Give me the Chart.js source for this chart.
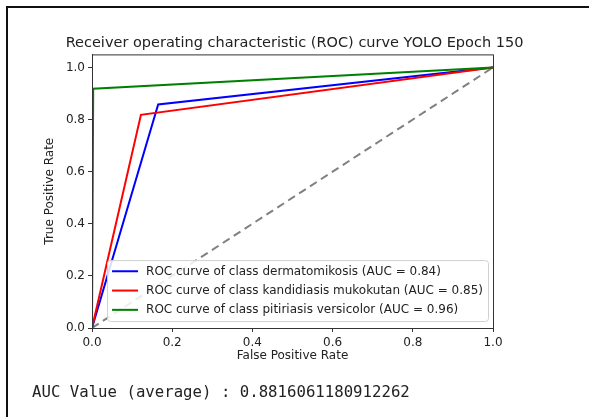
<!DOCTYPE html>
<html>
<head>
<meta charset="utf-8">
<script src="https://cdn.jsdelivr.net/npm/chart.js@4.4.0/dist/chart.umd.min.js"></script>
<style>
  html, body { margin: 0; padding: 0; background: #fff; }
  #wrap { position: relative; width: 589px; height: 417px; overflow: hidden; }
  #c { position: absolute; left: 0; top: 0; }
  #frameTop { position: absolute; left: 6px; top: 6px; width: 583px; height: 2px; background: #111; }
  #frameLeft { position: absolute; left: 6px; top: 6px; width: 2px; height: 411px; background: #111; }
  #auc { position: absolute; left: 32px; top: 382px; font-family: "DejaVu Sans Mono", monospace; font-size: 15.7px; color: #222; white-space: pre; }
</style>
</head>
<body>
<div id="wrap">
  <canvas id="c" width="589" height="417"></canvas>
  <div id="frameTop"></div>
  <div id="frameLeft"></div>
  <div id="auc">AUC Value (average) : 0.8816061180912262</div>
</div>
<script>
// ---- data ----
const classNames = ['dermatomikosis', 'kandidiasis mukokutan', 'pitiriasis versicolor'];
const aucValues = [0.84, 0.85, 0.96];
const fprDermatomikosis = [0, 0.165, 1];
const tprDermatomikosis = [0, 0.858, 1];
const fprKandidiasis = [0, 0.122, 1];
const tprKandidiasis = [0, 0.818, 1];
const fprPitiriasis = [0, 0.003, 1];
const tprPitiriasis = [0, 0.918, 1];
const fprDiagonal = [0, 1];
const tprDiagonal = [0, 1];
const xTickValues = [0, 0.2, 0.4, 0.6, 0.8, 1.0];
const yTickValues = [0, 0.2, 0.4, 0.6, 0.8, 1.0];
const titleText = 'Receiver operating characteristic (ROC) curve YOLO Epoch 150';

function pts(xs, ys) { return xs.map((x, i) => ({ x: x, y: ys[i] })); }

const lineColors = ['#0000ff', '#ff0000', '#008000'];
const fprs = [fprDermatomikosis, fprKandidiasis, fprPitiriasis];
const tprs = [tprDermatomikosis, tprKandidiasis, tprPitiriasis];

const datasets = classNames.map((name, i) => ({
  label: 'ROC curve of class ' + name + ' (AUC = ' + aucValues[i].toFixed(2) + ')',
  data: pts(fprs[i], tprs[i]),
  borderColor: lineColors[i],
  backgroundColor: lineColors[i],
  borderWidth: 2,
  pointRadius: 0,
  fill: false,
  tension: 0,
  order: 4 - i
}));
datasets.push({
  label: '_diag',
  data: pts(fprDiagonal, tprDiagonal),
  borderColor: '#808080',
  borderWidth: 2,
  borderDash: [8, 5],
  pointRadius: 0,
  fill: false,
  order: 10
});

const FONT = '"DejaVu Sans", sans-serif';

const boxAndLegend = {
  id: 'boxAndLegend',
  afterDatasetsDraw(chart) {
    const ctx = chart.ctx;
    const a = chart.chartArea;
    ctx.save();
    // axes box
    ctx.strokeStyle = '#333';
    ctx.lineWidth = 1;
    ctx.strokeRect(a.left + 0.5, a.top + 0.5, a.right - a.left, a.bottom - a.top);
    // legend
    ctx.font = '12px ' + FONT;
    const items = chart.data.datasets.filter(d => !d.label.startsWith('_'));
    let maxW = 0;
    items.forEach(d => { maxW = Math.max(maxW, ctx.measureText(d.label).width); });
    const rowH = 19.3;
    const pad = 5;
    const handle = 26;
    const gap = 8;
    const w = pad + handle + gap + maxW + pad;
    const h = items.length * rowH + 3;
    const right = a.right - 5;
    const bottom = a.bottom - 7;
    const left = right - w, top = bottom - h;
    ctx.beginPath();
    if (ctx.roundRect) ctx.roundRect(left + 0.5, top + 0.5, w, h, 3); else ctx.rect(left + 0.5, top + 0.5, w, h);
    ctx.fillStyle = 'rgba(255,255,255,0.85)';
    ctx.fill();
    ctx.strokeStyle = '#d0d0d0';
    ctx.lineWidth = 1;
    ctx.stroke();
    items.forEach((d, i) => {
      const cy = top + 1.5 + rowH * (i + 0.5);
      ctx.beginPath();
      ctx.strokeStyle = d.borderColor;
      ctx.lineWidth = 2;
      ctx.moveTo(left + pad, cy);
      ctx.lineTo(left + pad + handle, cy);
      ctx.stroke();
      ctx.fillStyle = '#222';
      ctx.textBaseline = 'middle';
      ctx.textAlign = 'left';
      ctx.fillText(d.label, left + pad + handle + gap, cy + 0.5);
    });
    ctx.restore();
  }
};

new Chart(document.getElementById('c'), {
  type: 'line',
  data: { datasets: datasets },
  options: {
    responsive: false,
    animation: false,
    devicePixelRatio: 1,
    layout: { padding: { left: 0, right: 0, top: 0, bottom: 54 } },
    plugins: {
      legend: { display: false },
      tooltip: { enabled: false },
      title: {
        display: true,
        text: titleText,
        color: '#222',
        font: { family: FONT, size: 14.5, weight: 'normal' },
        padding: { top: 35, bottom: 2 }
      }
    },
    scales: {
      x: {
        type: 'linear',
        min: 0, max: 1,
        afterBuildTicks: s => { s.ticks = xTickValues.map(v => ({ value: v })); },
        afterFit: s => { s.height = 35; },
        grid: { drawOnChartArea: false, drawTicks: true, tickLength: 4, color: '#333' },
        border: { display: true, color: '#333' },
        ticks: { color: '#222', font: { family: FONT, size: 12 }, padding: 4, maxRotation: 0, callback: v => Number(v).toFixed(1) },
        title: { display: true, text: 'False Positive Rate', color: '#222', font: { family: FONT, size: 12 }, padding: { top: 2, bottom: 0 } }
      },
      y: {
        type: 'linear',
        min: 0, max: 1.05,
        afterBuildTicks: s => { s.ticks = yTickValues.map(v => ({ value: v })); },
        afterFit: s => { s.width = 92; },
        grid: { drawOnChartArea: false, drawTicks: true, tickLength: 4, color: '#333' },
        border: { display: true, color: '#333' },
        ticks: { color: '#222', font: { family: FONT, size: 12 }, padding: 3, callback: v => Number(v).toFixed(1) },
        title: { display: true, text: 'True Positive Rate', color: '#222', font: { family: FONT, size: 12 }, padding: { top: 43, bottom: 0 } }
      },
      yRight: {
        type: 'linear',
        position: 'right',
        min: 0, max: 1,
        afterFit: s => { s.width = 96; },
        grid: { display: false },
        border: { display: false },
        ticks: { display: false }
      }
    }
  },
  plugins: [boxAndLegend]
});
</script>
</body>
</html>
